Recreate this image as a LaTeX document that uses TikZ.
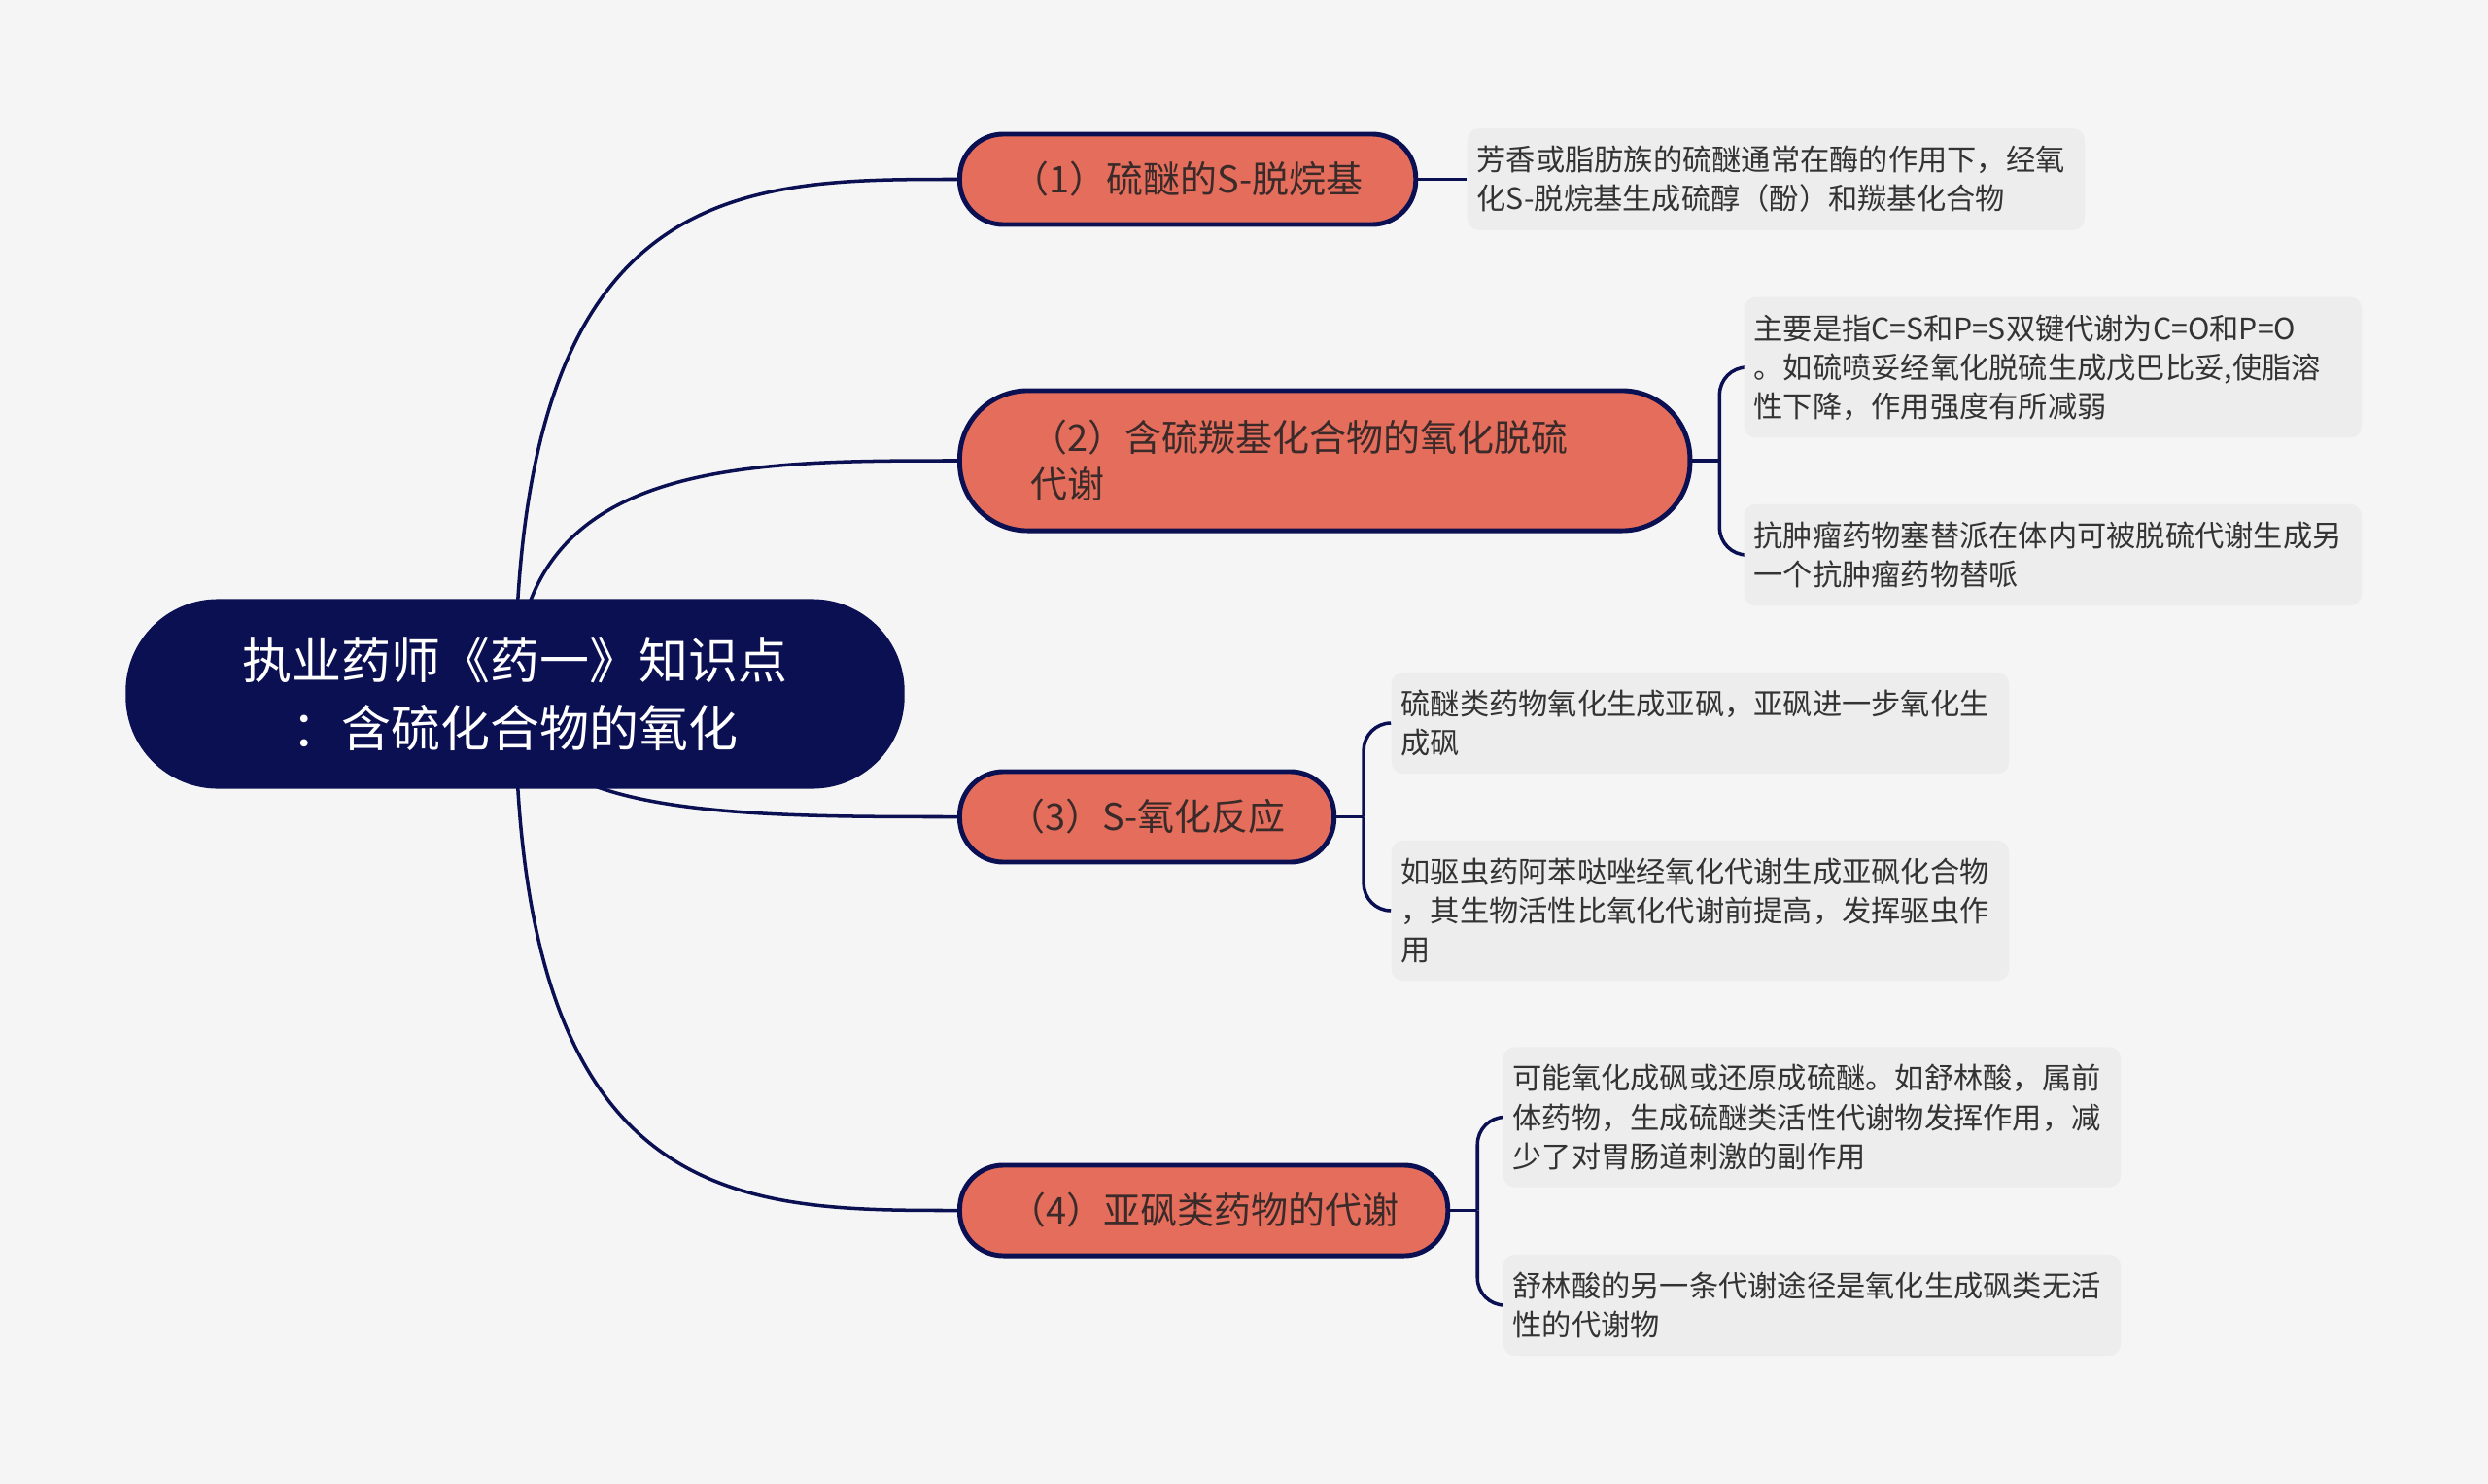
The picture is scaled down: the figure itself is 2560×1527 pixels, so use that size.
\documentclass[tikz,border=0pt]{standalone}
\usepackage{fontspec}
\setmainfont{Noto Sans CJK SC}
\usetikzlibrary{calc}

\definecolor{pagebg}{HTML}{F5F5F5}
\definecolor{navy}{HTML}{0B1052}
\definecolor{salmon}{HTML}{E46E5B}
\definecolor{leafgray}{HTML}{EDEDED}
\definecolor{branchtext}{HTML}{3A2A2A}
\definecolor{leaftext}{HTML}{333333}

\pgfdeclarelayer{bg}
\pgfdeclarelayer{wires}
\pgfsetlayers{bg,wires,main}

\begin{document}
\begin{tikzpicture}[x=0.01cm,y=-0.01cm,
  root/.style={rectangle,rounded corners=0.95cm,fill=navy,text=white,minimum width=8.01cm,minimum height=1.95cm,align=center,font=\fontsize{14.5}{20}\selectfont},
  branch/.style={rectangle,rounded corners=0.45cm,draw=navy,line width=1.4pt,fill=salmon,text=branchtext,anchor=west,minimum height=0.93cm,font=\fontsize{10.8}{13.7}\selectfont},
  leaf/.style={rectangle,rounded corners=0.12cm,fill=leafgray,text=leaftext,anchor=west,text width=6.15cm,inner xsep=0.1cm,inner ysep=0.18cm,align=left,font=\fontsize{8.6}{11.4}\selectfont},
  link/.style={draw=navy,line width=1pt}
]

% Page background
\begin{pgfonlayer}{bg}
\fill[pagebg] (0,0) rectangle (2560,1527);
\end{pgfonlayer}
\useasboundingbox (0,0) rectangle (2560,1527);

% Central topic
\node[root] (root) at (530,714) {执业药师《药一》知识点\\：含硫化合物的氧化};

% Four branches (left edges aligned)
\node[branch,minimum width=4.69cm] (b1) at (985,184.5) {（1）硫醚的S-脱烷基};
\node[branch,rounded corners=0.7cm,minimum height=1.44cm,text width=6.05cm,inner xsep=0.73cm,align=left] (b2) at (985,474) {（2）含硫羰基化合物的氧化脱硫\\代谢};
\node[branch,minimum width=3.85cm] (b3) at (985,840.5) {（3）S-氧化反应};
\node[branch,minimum width=5.02cm] (b4) at (985,1245.5) {（4）亚砜类药物的代谢};

% Notes for branch 1
\node[leaf] (l1) at (1509,184.5) {芳香或脂肪族的硫醚通常在酶的作用下，经氧\\化S-脱烷基生成硫醇（酚）和羰基化合物};

% Notes for branch 2
\node[leaf] (l2a) at (1794,378) {主要是指C=S和P=S双键代谢为C=O和P=O\\。如硫喷妥经氧化脱硫生成戊巴比妥,使脂溶\\性下降，作用强度有所减弱};
\node[leaf] (l2b) at (1794,571) {抗肿瘤药物塞替派在体内可被脱硫代谢生成另\\一个抗肿瘤药物替哌};

% Notes for branch 3
\node[leaf] (l3a) at (1431,744) {硫醚类药物氧化生成亚砜，亚砜进一步氧化生\\成砜};
\node[leaf] (l3b) at (1431,937) {如驱虫药阿苯哒唑经氧化代谢生成亚砜化合物\\，其生物活性比氧化代谢前提高，发挥驱虫作\\用};

% Notes for branch 4
\node[leaf] (l4a) at (1546,1149.5) {可能氧化成砜或还原成硫醚。如舒林酸，属前\\体药物，生成硫醚类活性代谢物发挥作用，减\\少了对胃肠道刺激的副作用};
\node[leaf] (l4b) at (1546,1343) {舒林酸的另一条代谢途径是氧化生成砜类无活\\性的代谢物};

% Curved links from the centre, drawn under the nodes
\begin{pgfonlayer}{wires}
\draw[link] (root.center) .. controls (root.center |- b1.west) and ($(root.center |- b1.west)!0.5!(b1.west)$) .. (b1.west);
\draw[link] (root.center) .. controls (root.center |- b2.west) and ($(root.center |- b2.west)!0.5!(b2.west)$) .. (b2.west);
\draw[link] (root.center) .. controls (root.center |- b3.west) and ($(root.center |- b3.west)!0.5!(b3.west)$) .. (b3.west);
\draw[link] (root.center) .. controls (root.center |- b4.west) and ($(root.center |- b4.west)!0.5!(b4.west)$) .. (b4.west);

% Branch 1 has a single note
\draw[link] (b1.east) -- (l1.west);

% Brackets to the notes
\coordinate (j2) at ([xshift=0.28cm]b2.east);
\draw[link] (b2.east) -- (j2);
\draw[link,rounded corners=0.28cm] (j2) |- (l2a.west);
\draw[link,rounded corners=0.28cm] (j2) |- (l2b.west);

\coordinate (j3) at ([xshift=0.28cm]b3.east);
\draw[link] (b3.east) -- (j3);
\draw[link,rounded corners=0.28cm] (j3) |- (l3a.west);
\draw[link,rounded corners=0.28cm] (j3) |- (l3b.west);

\coordinate (j4) at ([xshift=0.28cm]b4.east);
\draw[link] (b4.east) -- (j4);
\draw[link,rounded corners=0.28cm] (j4) |- (l4a.west);
\draw[link,rounded corners=0.28cm] (j4) |- (l4b.west);
\end{pgfonlayer}

\end{tikzpicture}
\end{document}
